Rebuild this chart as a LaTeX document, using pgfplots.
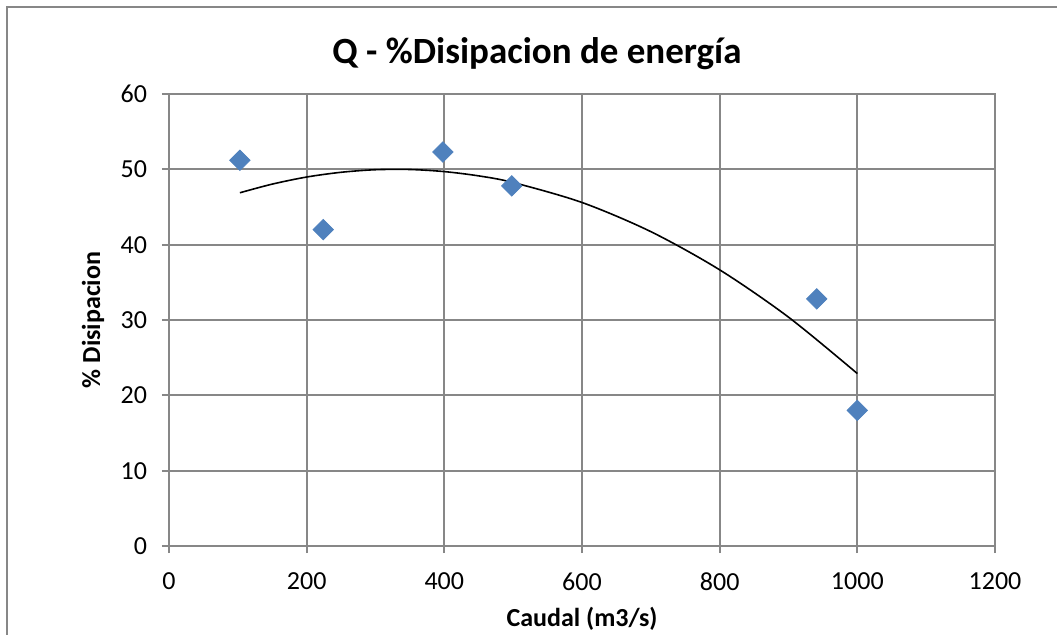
\documentclass[border=0pt]{standalone}
\usepackage{pgfplots}
\pgfplotsset{compat=1.18}
\usepackage{fontspec}
\setmainfont{Carlito}
\definecolor{gridgray}{HTML}{878787}
\definecolor{mkblue}{HTML}{4F81BD}
\begin{document}
\begin{tikzpicture}[x=1pt,y=1pt]
\begin{axis}[
  at={(84.5pt,44pt)}, anchor=south west,
  scale only axis, width=413pt, height=226pt,
  xmin=0, xmax=1200, ymin=0, ymax=60,
  xtick={0,200,...,1200}, ytick={0,10,...,60},
  grid=major,
  grid style={gridgray, line width=0.9pt},
  axis line style={gridgray, line width=0.9pt},
  major tick style={gridgray, line width=0.9pt},
  tick align=outside, major tick length=3.5pt,
  xtick pos=bottom, ytick pos=left,
  /pgf/number format/assume math mode=true,
  /pgf/number format/1000 sep={},
  tick label style={font=\fontsize{13}{15}\selectfont, text=black},
  yticklabel style={xshift=-4pt},
  xticklabel style={yshift=-6.5pt},
  xlabel={\textbf{Caudal (m3/s)}},
  ylabel={\textbf{\% Disipacion}},
  every axis x label/.style={at={(axis description cs:0.5,-0.1615)}, anchor=center, font=\fontsize{13}{15}\selectfont},
  every axis y label/.style={at={(axis description cs:-0.092,0.5)}, anchor=center, rotate=90, font=\fontsize{13}{15}\selectfont},
  clip=false,
]
\addplot[only marks, mark=square*, mark size=3.6pt, mark options={rotate=45, fill=mkblue, draw=mkblue}]
  coordinates {(103,51.2) (224,42.0) (398,52.3) (498,47.8) (941,32.8) (1000,18.0)};
\addplot[black, line width=0.8pt, smooth, no marks] coordinates {
  (103,46.89) (150,48.04) (200,48.98) (250,49.61) (300,49.95) (350,49.98)
  (400,49.70) (450,49.13) (500,48.25) (600,45.60) (700,41.73) (800,36.66)
  (900,30.38) (1000,22.89)};
\end{axis}
\node[font=\fontsize{18.5}{22}\selectfont\bfseries] at (268.5pt,290pt) {Q - \%Disipacion de energía};
\draw[gridgray, line width=0.9pt] (3.5pt,-20pt) rectangle (545pt,313.5pt);
\pgfresetboundingbox
\path (0,0) rectangle (528.5pt,317pt);
\end{tikzpicture}
\end{document}
